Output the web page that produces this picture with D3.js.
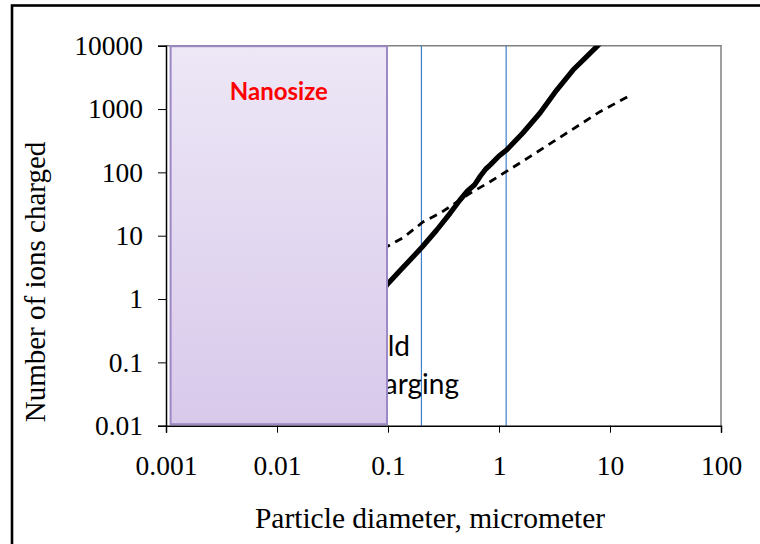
<!DOCTYPE html>
<html><head><meta charset="utf-8">
<script src="https://cdn.jsdelivr.net/npm/d3@7"></script>
<style>body{margin:0;background:#fff}svg{display:block}</style>
</head><body>
<svg id="c" width="760" height="544"></svg>
<script>
// ---- data ----
const xTickLabels = ["0.001","0.01","0.1","1","10","100"];
const yTickLabels = ["0.01","0.1","1","10","100","1000","10000"];
const fieldD   = [0.09, 0.0973, 0.128, 0.169, 0.204, 0.275, 0.362, 0.445, 0.52, 0.6, 0.68, 0.76, 0.83, 1.0, 1.17, 1.64, 2.34, 3.31, 4.64, 6.0, 7.59, 8.5];
const fieldN   = [1.3, 1.66, 2.79, 4.68, 6.7, 12.3, 22.6, 36.6, 50.8, 63, 87.6, 113, 130, 181, 225, 419, 865, 1995, 4130, 6440, 9640, 11860];
const diffD    = [0.09, 0.0973, 0.137, 0.208, 0.294, 0.548, 0.83, 1.9, 3.08, 8.13, 15.4];
const diffN    = [6.2, 6.7, 9.3, 16.6, 22.6, 46.7, 71, 177, 305, 908, 1666];
const markerD  = [0.2, 1.16];           // vertical reference lines
const nanoRange = [0.0011, 0.098];      // shaded "Nanosize" band

// ---- scales ----
const L = 166, R = 721, T = 45.7, B = 425.7;
const x = d3.scaleLog().domain([0.001, 100]).range([L, R]);
const y = d3.scaleLog().domain([0.01, 10000]).range([B, T]);
const svg = d3.select("#c");

// outer border
svg.append("rect").attr("x",12).attr("y",5.5).attr("width",820).attr("height",620)
  .attr("fill","none").attr("stroke","#000").attr("stroke-width",2.6);

// gradient
const defs = svg.append("defs");
const g = defs.append("linearGradient").attr("id","purp").attr("x1",0).attr("y1",0).attr("x2",0).attr("y2",1);
g.append("stop").attr("offset","0%").attr("stop-color","#ede7f6");
g.append("stop").attr("offset","100%").attr("stop-color","#d8c9eb");
defs.append("clipPath").attr("id","plot").append("rect")
  .attr("x",L).attr("y",T).attr("width",R-L).attr("height",B-T);

// plot frame (top/right)
svg.append("path").attr("d",`M${L},${T}H${R}V${B}`).attr("fill","none")
  .attr("stroke","#808080").attr("stroke-width",1.5);

// vertical blue lines
svg.selectAll("line.v").data(markerD).join("line").attr("class","v")
  .attr("x1",d=>x(d)).attr("x2",d=>x(d)).attr("y1",T).attr("y2",B)
  .attr("stroke","#3f7fcc").attr("stroke-width",1.2);

const plot = svg.append("g").attr("clip-path","url(#plot)");
plot.append("path").attr("d", d3.line().x((d,i)=>x(fieldD[i])).y(d=>y(d))(fieldN))
  .attr("fill","none").attr("stroke","#000").attr("stroke-width",5.2).attr("stroke-linejoin","round");
plot.append("path").attr("d", d3.line().x((d,i)=>x(diffD[i])).y(d=>y(d))(diffN))
  .attr("fill","none").attr("stroke","#000").attr("stroke-width",2.8).attr("stroke-dasharray","8,6");

// annotation text (partly hidden by band)
svg.append("text").attr("x",410).attr("y",356).attr("text-anchor","end")
  .attr("font-family","Lato").attr("font-size",28).attr("fill","#000").text("Field");
svg.append("text").attr("x",459).attr("y",394).attr("text-anchor","end")
  .attr("font-family","Lato").attr("font-size",28).attr("fill","#000").text("charging");

// nanosize band
svg.append("rect").attr("x",x(nanoRange[0])).attr("y",T+0.5)
  .attr("width",x(nanoRange[1])-x(nanoRange[0])).attr("height",B-T-2)
  .attr("fill","url(#purp)").attr("stroke","#9c88c4").attr("stroke-width",2);
svg.append("text").attr("x",(x(nanoRange[0])+x(nanoRange[1]))/2).attr("y",100)
  .attr("text-anchor","middle").attr("font-family","Lato").attr("font-weight","bold")
  .attr("font-size",24).attr("fill","#ff0000").text("Nanosize");

// axes
const xMaj = xTickLabels.map(Number), yMaj = yTickLabels.map(Number);
const xMin = x.ticks().filter(v=>!xMaj.some(m=>Math.abs(m-v)/m<1e-9));
const yMin = y.ticks().filter(v=>!yMaj.some(m=>Math.abs(m-v)/m<1e-9));
const font = "'Liberation Serif', 'Times New Roman', serif";

const xa = svg.append("g").attr("transform",`translate(0,${B})`);
xa.call(d3.axisBottom(x).tickValues(xMin).tickSize(5).tickFormat(""));
xa.call(d3.axisBottom(x).tickValues(xMaj).tickSize(7).tickPadding(23).tickFormat((d,i)=>xTickLabels[i]));
xa.selectAll(".domain").attr("stroke","#000").attr("stroke-width",1.5);
xa.selectAll("line").attr("stroke","#000").attr("stroke-width",1);
xa.selectAll("text").attr("font-family",font).attr("font-size",27.5).attr("fill","#000");

const ya = svg.append("g").attr("transform",`translate(${L},0)`);
ya.call(d3.axisLeft(y).tickValues(yMin).tickSize(5).tickFormat(""));
ya.call(d3.axisLeft(y).tickValues(yMaj).tickSize(8).tickPadding(15).tickFormat((d,i)=>yTickLabels[i]));
ya.selectAll(".domain").attr("stroke","#000").attr("stroke-width",1.5);
ya.selectAll("line").attr("stroke","#000").attr("stroke-width",1);
ya.selectAll("text").attr("font-family",font).attr("font-size",27.5).attr("fill","#000");

// axis titles
svg.append("text").attr("x",430).attr("y",528).attr("text-anchor","middle")
  .attr("font-family",font).attr("font-size",29.5).attr("fill","#000").text("Particle diameter, micrometer");
svg.append("text").attr("transform","translate(45,282) rotate(-90)").attr("text-anchor","middle")
  .attr("font-family",font).attr("font-size",29).attr("fill","#000").text("Number of ions charged");
</script>
</body></html>
